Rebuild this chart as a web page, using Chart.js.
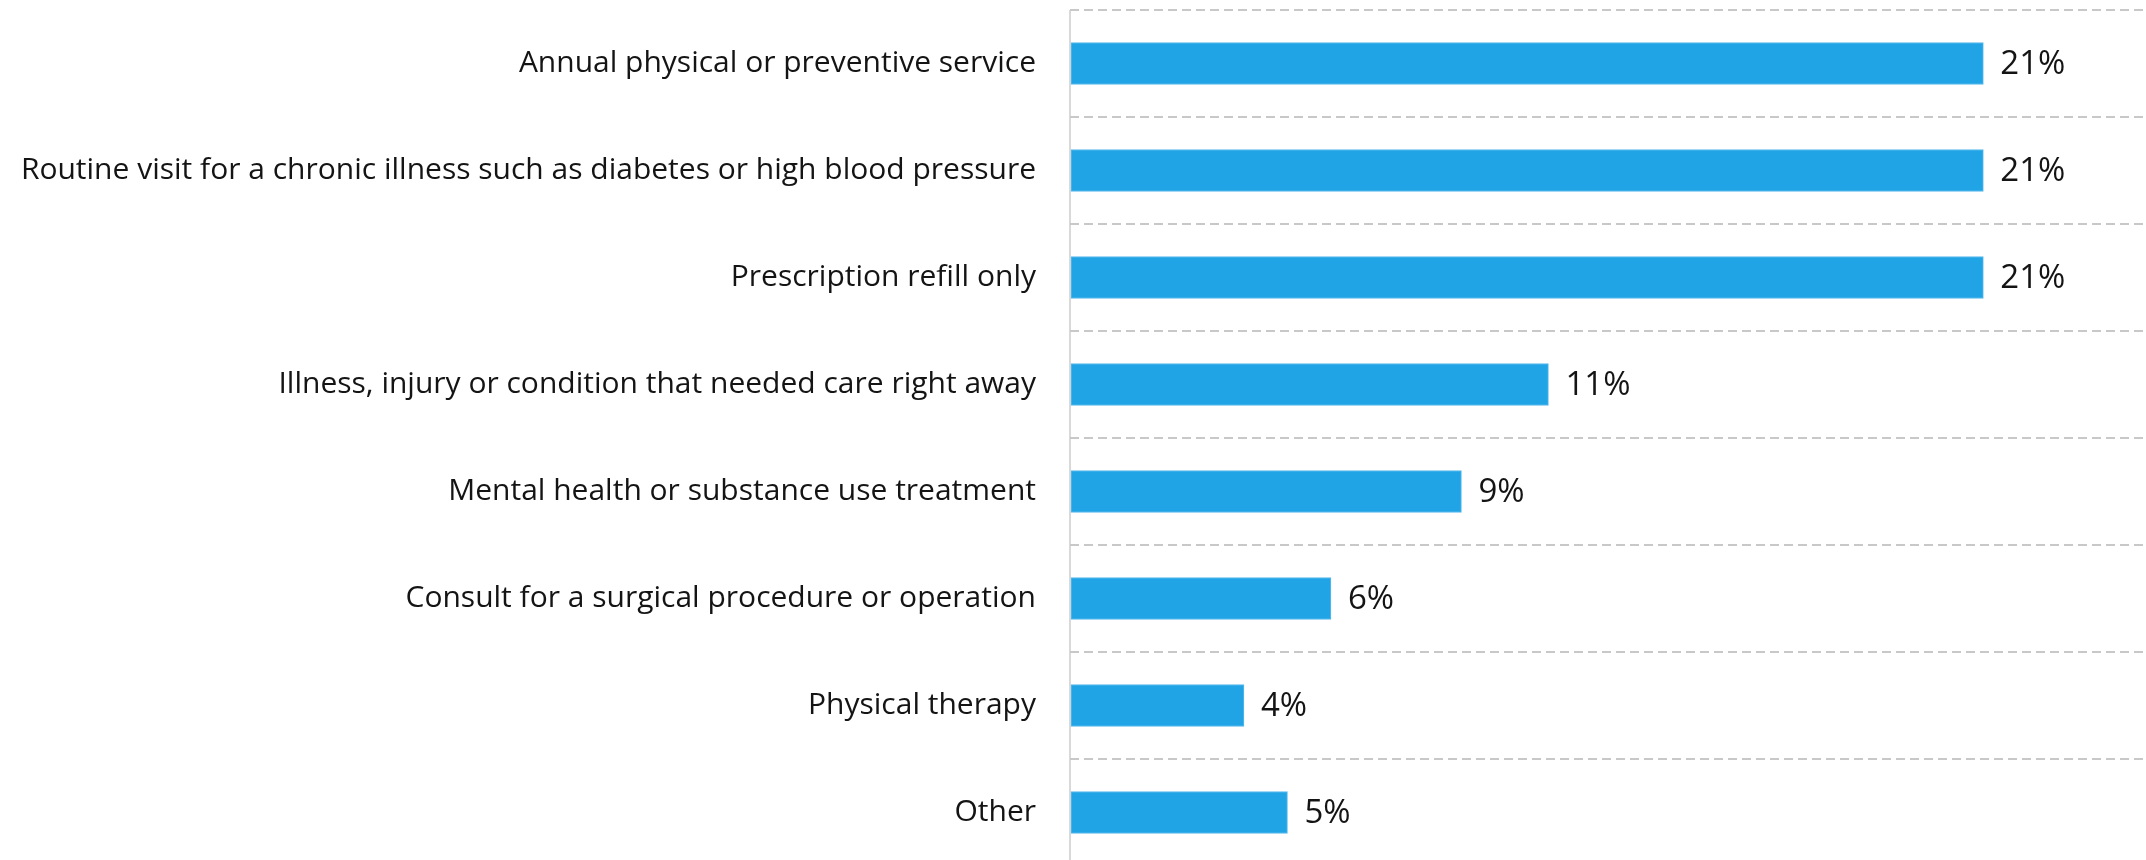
<!DOCTYPE html>
<html>
<head>
<meta charset="utf-8">
<script src="https://cdn.jsdelivr.net/npm/chart.js@4/dist/chart.umd.min.js"></script>
<style>
  html, body { margin: 0; padding: 0; background: #ffffff; overflow: hidden; }
  #wrap { position: relative; width: 2146px; height: 866px; }
</style>
</head>
<body>
<div id="wrap"><canvas id="chart"></canvas></div>
<script>
const categories = [
  "Annual physical or preventive service",
  "Routine visit for a chronic illness such as diabetes or high blood pressure",
  "Prescription refill only",
  "Illness, injury or condition that needed care right away",
  "Mental health or substance use treatment",
  "Consult for a surgical procedure or operation",
  "Physical therapy",
  "Other"
];
const shares = [21, 21, 21, 11, 9, 6, 4, 5];
const valueLabels = ["21%", "21%", "21%", "11%", "9%", "6%", "4%", "5%"];

const FONT = "'Open Sans', 'Noto Sans', sans-serif";

// Writes the percentage just past the end of each bar.
const barValueLabels = {
  id: 'barValueLabels',
  afterDatasetsDraw(chart) {
    const ctx = chart.ctx;
    const meta = chart.getDatasetMeta(0);
    ctx.save();
    ctx.font = "33px " + FONT;
    ctx.fillStyle = "#141414";
    ctx.textAlign = "left";
    ctx.textBaseline = "middle";
    meta.data.forEach((bar, i) => {
      ctx.fillText(valueLabels[i], bar.x + 17, bar.y + 1);
    });
    ctx.restore();
  }
};

new Chart(document.getElementById('chart'), {
  type: 'bar',
  data: {
    labels: categories,
    datasets: [{
      data: shares,
      backgroundColor: '#21A4E6',
      borderColor: '#5CBBEC',
      borderWidth: 1,
      borderSkipped: false,
      barThickness: 42
    }]
  },
  options: {
    indexAxis: 'y',
    responsive: true,
    maintainAspectRatio: false,
    animation: false,
    layout: { padding: { top: 10, right: 0, bottom: 0, left: 0 } },
    plugins: {
      legend: { display: false },
      tooltip: { enabled: false }
    },
    scales: {
      x: {
        display: true,
        position: 'bottom',
        min: 0,
        max: 24.74,
        afterFit(scale) { scale.height = 0; },
        ticks: { display: false, stepSize: 100 },
        grid: {
          drawTicks: false,
          lineWidth: 2,
          // only the zero line is drawn: it is the vertical axis rule
          color: (c) => (c.tick && c.tick.value === 0) ? '#d9d9d9' : 'rgba(0,0,0,0)'
        },
        border: { display: false }
      },
      y: {
        afterFit(scale) {
          scale.width = 1070;
          scale.paddingTop = 0;
          scale.paddingBottom = 0;
        },
        grid: {
          offset: true,
          drawTicks: false,
          color: '#c8c8c8',
          lineWidth: 2
        },
        border: {
          display: false,
          dash: [9, 5]
        },
        ticks: {
          padding: 34,
          color: '#141414',
          font: { family: FONT, size: 30 }
        }
      }
    }
  },
  plugins: [barValueLabels]
});
</script>
</body>
</html>
